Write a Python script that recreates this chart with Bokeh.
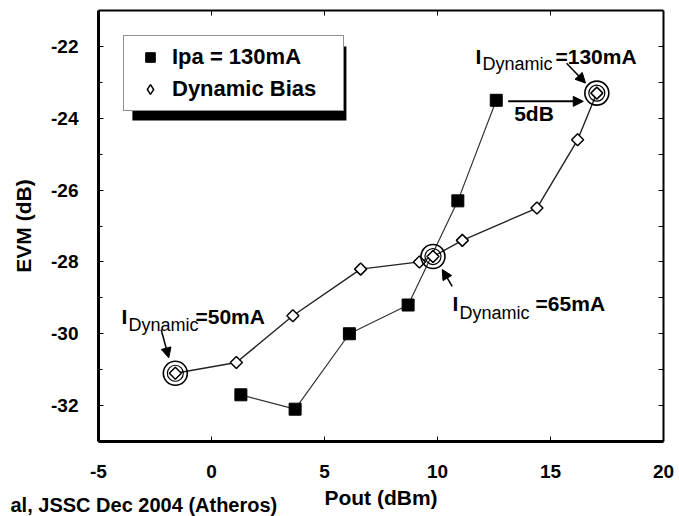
import numpy as np
from bokeh.plotting import figure
from bokeh.models import (FixedTicker, LinearAxis, Range1d, Legend, LegendItem, Label,
                          Arrow, NormalHead, BoxAnnotation, CustomJSTickFormatter, Title)
from bokeh.embed import file_html
from bokeh.resources import INLINE

FONT = "Liberation Sans"

# ---- data ----
pa_pout = [1.3, 3.7, 6.1, 8.7, 10.9, 12.6]
pa_evm = [-31.7, -32.1, -30.0, -29.2, -26.3, -23.5]

dyn_pout = [-1.6, 1.1, 3.6, 6.6, 9.2, 9.8, 11.1, 14.4, 16.2, 17.05]
dyn_evm = [-31.1, -30.8, -29.5, -28.2, -28.0, -27.85, -27.4, -26.5, -24.6, -23.3]

circled_idx = [0, 5, 9]          # I_Dynamic = 50mA, 65mA, 130mA

x_ticks = [-5, 0, 5, 10, 15, 20]
x_tick_labels = ["-5", "0", "5", "10", "15", "20"]
y_ticks = [-32, -30, -28, -26, -24, -22]
y_tick_labels = ["-32", "-30", "-28", "-26", "-24", "-22"]
y_minor = [-33, -31, -29, -27, -25, -23, -21]

# ---- figure ----
p = figure(width=679, height=516, output_backend="svg", toolbar_location=None,
           x_range=Range1d(-5, 20), y_range=Range1d(-33, -21),
           min_border_left=98, min_border_right=16, min_border_top=10, min_border_bottom=75)
p.outline_line_color = None
p.grid.visible = False
p.background_fill_color = "white"
p.border_fill_color = "white"

def style_axis(ax, line_w):
    ax.axis_line_width = line_w
    ax.axis_line_color = "black"
    ax.major_tick_in = 5
    ax.major_tick_out = 0
    ax.minor_tick_in = 0
    ax.minor_tick_out = 0
    ax.major_tick_line_color = "black"
    ax.major_tick_line_width = 1

xa = p.xaxis[0]
style_axis(xa, 3)
xa.ticker = FixedTicker(ticks=x_ticks)
xa.major_label_overrides = dict(zip(x_ticks, x_tick_labels))
xa.major_label_text_font = FONT
xa.major_label_text_font_style = "bold"
xa.major_label_text_font_size = "19px"
xa.major_label_text_color = "black"
xa.major_label_standoff = 23
xa.axis_label = "Pout (dBm)"
xa.axis_label_text_font = FONT
xa.axis_label_text_font_style = "bold"
xa.axis_label_text_font_size = "21px"
xa.axis_label_text_color = "black"
xa.axis_label_standoff = 5

ya = p.yaxis[0]
style_axis(ya, 3)
ya.ticker = FixedTicker(ticks=y_ticks, minor_ticks=y_minor)
ya.major_label_overrides = dict(zip(y_ticks, y_tick_labels))
ya.minor_tick_in = 4
ya.minor_tick_line_color = "black"
ya.major_label_text_font = FONT
ya.major_label_text_font_style = "bold"
ya.major_label_text_font_size = "19px"
ya.major_label_text_color = "black"
ya.major_label_standoff = 20
ya.axis_label = "EVM (dB)"
ya.axis_label_text_font = FONT
ya.axis_label_text_font_style = "bold"
ya.axis_label_text_font_size = "21px"
ya.axis_label_text_color = "black"
ya.axis_label_standoff = 13

blank = CustomJSTickFormatter(code="return ''")
top = LinearAxis(ticker=FixedTicker(ticks=[0, 5, 10, 15]), formatter=blank,
                 major_label_standoff=0, major_label_text_font_size="1px")
style_axis(top, 2)
p.add_layout(top, "above")
right = LinearAxis(ticker=FixedTicker(ticks=list(range(-32, -21))), formatter=blank,
                   major_label_standoff=0, major_label_text_font_size="1px")
style_axis(right, 2)
p.add_layout(right, "right")

# citation line under the chart (a bottom title so that it is not clipped to the frame)
cite = Title(text="al, JSSC Dec 2004 (Atheros)", align="left", vertical_align="top",
             offset=-88, standoff=-36, text_font=FONT, text_font_style="bold",
             text_font_size="20px", text_color="black")
p.add_layout(cite, "below")

# ---- series ----
p.line(pa_pout, pa_evm, line_color="#333333", line_width=1.2)
r_pa = p.scatter(pa_pout, pa_evm, marker="square", size=12,
                 fill_color="black", line_color="black")
p.line(dyn_pout, dyn_evm, line_color="#222222", line_width=1.4)
p.scatter(dyn_pout, dyn_evm, marker="square", angle=np.pi / 4, size=8.5,
          fill_color="white", line_color="black", line_width=1.5)
# legend swatch for the diamond series (legend glyphs ignore rotation); draws nothing
r_dyn_key = p.scatter(x=[np.nan], y=[np.nan], marker="diamond", size=12,
                      fill_color="white", line_color="black", line_width=1.5)

cx = [dyn_pout[i] for i in circled_idx]
cy = [dyn_evm[i] for i in circled_idx]
p.scatter(cx, cy, marker="circle", size=24, fill_color=None, line_color="black", line_width=1.6)
p.scatter(cx, cy, marker="circle", size=16, fill_color=None, line_color="black", line_width=1.2)

# ---- legend with shadow ----
shadow = BoxAnnotation(left=-3.5, right=5.97, top=-22.0, bottom=-24.06,
                       fill_color="black", fill_alpha=1, line_color=None)
p.add_layout(shadow)
legend = Legend(items=[LegendItem(label="Ipa = 130mA", renderers=[r_pa]),
                       LegendItem(label="Dynamic Bias", renderers=[r_dyn_key])],
                location="top_left", margin=25, padding=8, spacing=6,
                glyph_width=36, glyph_height=24, label_height=24, label_standoff=4,
                label_width=163,
                label_text_font=FONT, label_text_font_style="bold",
                label_text_font_size="22px", label_text_color="black",
                border_line_color="#222222", border_line_width=1.5,
                background_fill_color="white", background_fill_alpha=1)
p.add_layout(legend)

# ---- annotations ----
def lab(x, y, text, size, bold=True):
    p.add_layout(Label(x=x, y=y, text=text, text_font=FONT,
                       text_font_style="bold" if bold else "normal",
                       text_font_size=size, text_color="black",
                       text_baseline="alphabetic", text_align="left"))

def arrow(x0, y0, x1, y1, w=1.5):
    p.add_layout(Arrow(x_start=x0, y_start=y0, x_end=x1, y_end=y1, line_width=w,
                       line_color="black",
                       end=NormalHead(size=10, fill_color="black", line_color="black")))

# I_Dynamic = 130mA
lab(11.68, -22.28, "I", "21px")
lab(11.99, -22.50, "Dynamic", "18px", bold=False)
lab(15.22, -22.28, "=130mA", "21px")
arrow(15.71, -22.47, 16.55, -23.02)

# 5dB
arrow(13.13, -23.53, 16.45, -23.53, w=2)
p.add_layout(Label(x=14.27, y=-23.87, text="5dB", text_font=FONT, text_font_style="bold",
                   text_font_size="21px", text_color="black",
                   text_baseline="middle", text_align="center"))

# I_Dynamic = 65mA
lab(10.66, -29.16, "I", "21px")
lab(10.97, -29.41, "Dynamic", "18px", bold=False)
lab(14.34, -29.16, "=65mA", "21px")
arrow(10.65, -28.68, 10.21, -28.21)

# I_Dynamic = 50mA
lab(-3.98, -29.52, "I", "21px")
lab(-3.67, -29.77, "Dynamic", "18px", bold=False)
lab(-0.71, -29.52, "=50mA", "21px")
arrow(-2.23, -29.88, -1.89, -30.67)

open("out.html", "w").write(file_html(p, INLINE))
